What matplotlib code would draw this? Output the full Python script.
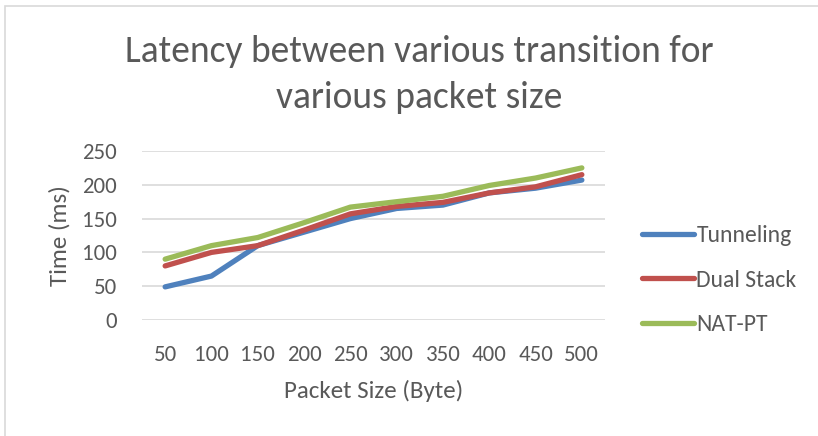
import matplotlib.pyplot as plt
from matplotlib.patches import Rectangle

plt.rcParams['font.family'] = ['Carlito', 'Lato', 'DejaVu Sans']

packet_sizes = ['50', '100', '150', '200', '250', '300', '350', '400', '450', '500']
tunneling = [49, 65, 110, 130, 150, 165, 170, 188, 195, 207]
dual_stack = [80, 100, 110, 133, 157, 168, 174, 188, 197, 215]
nat_pt = [90, 110, 122, 144, 167, 175, 183, 199, 210, 225]

text_color = '#595959'

fig = plt.figure(figsize=(8.18, 4.36), dpi=100)
# light chart frame, runs off the right and bottom edges like the screenshot
fig.patches.append(Rectangle((5 / 818, -0.1), 1.1, 1 - 6 / 436 + 0.1, transform=fig.transFigure,
                             fill=False, edgecolor='#d9d9d9', linewidth=1.2))

ax = fig.add_axes([142 / 818, 1 - 320 / 436, 463 / 818, 169 / 436])
x = range(len(packet_sizes))
ax.plot(x, tunneling, color='#4F81BD', lw=3.8, solid_capstyle='round', label='Tunneling')
ax.plot(x, dual_stack, color='#C0504D', lw=3.8, solid_capstyle='round', label='Dual Stack')
ax.plot(x, nat_pt, color='#9BBB59', lw=3.8, solid_capstyle='round', label='NAT-PT')

ax.set_xlim(-0.5, len(packet_sizes) - 0.5)
ax.set_ylim(0, 250)
ax.set_yticks([0, 50, 100, 150, 200, 250])
ax.set_xticks(list(x))
ax.set_xticklabels(packet_sizes)
ax.grid(axis='y', color='#d9d9d9', lw=1.2)
ax.set_axisbelow(True)
for s in ax.spines.values():
    s.set_visible(False)
ax.tick_params(length=0, labelsize=16.5, colors=text_color)
ax.tick_params(axis='y', pad=18)
ax.tick_params(axis='x', pad=18)

ax.set_xlabel('Packet Size (Byte)', fontsize=18, color=text_color, labelpad=11)
ax.set_ylabel('Time (ms)', fontsize=18, color=text_color, labelpad=8)

fig.text(419 / 818, 1 - 51 / 436, 'Latency between various transition for',
         ha='center', va='center', fontsize=27, color=text_color)
fig.text(419 / 818, 1 - 97 / 436, 'various packet size',
         ha='center', va='center', fontsize=27, color=text_color)

ax.legend(loc='center left', bbox_to_anchor=(642 / 818, 1 - 280 / 436), bbox_transform=fig.transFigure,
          frameon=False, fontsize=17, labelcolor=text_color, handlelength=2.2, handletextpad=0.1,
          labelspacing=1.0, borderpad=0, borderaxespad=0)

fig.savefig('out.png', dpi=100)
